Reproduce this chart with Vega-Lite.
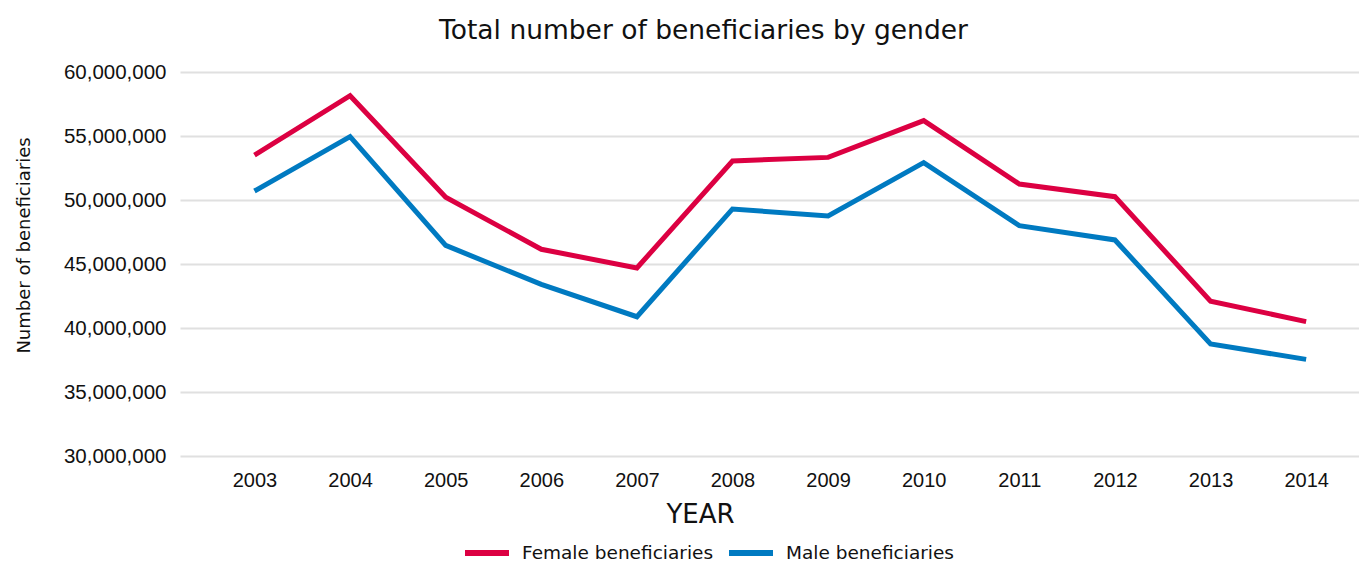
{
  "$schema": "https://vega.github.io/schema/vega-lite/v6.json",
  "width": 1179,
  "height": 384,
  "autosize": {"type": "none"},
  "padding": {"left": 180, "top": 72, "right": 0, "bottom": 107},
  "background": "white",
  "title": {
    "text": "Total number of beneficiaries by gender",
    "font": "DejaVu Sans",
    "fontSize": 26.5,
    "fontWeight": "normal",
    "color": "#111111",
    "anchor": "middle",
    "frame": "group",
    "dx": -66,
    "dy": 2,
    "offset": 20
  },
  "config": {
    "view": {"stroke": null},
    "axis": {"labelColor": "#111111", "titleColor": "#111111"}
  },
  "data": {
    "values": [
      {"year": 2003, "gender": "Female beneficiaries", "value": 53500000},
      {"year": 2004, "gender": "Female beneficiaries", "value": 58150000},
      {"year": 2005, "gender": "Female beneficiaries", "value": 50210000},
      {"year": 2006, "gender": "Female beneficiaries", "value": 46150000},
      {"year": 2007, "gender": "Female beneficiaries", "value": 44690000},
      {"year": 2008, "gender": "Female beneficiaries", "value": 53050000},
      {"year": 2009, "gender": "Female beneficiaries", "value": 53330000},
      {"year": 2010, "gender": "Female beneficiaries", "value": 56200000},
      {"year": 2011, "gender": "Female beneficiaries", "value": 51250000},
      {"year": 2012, "gender": "Female beneficiaries", "value": 50260000},
      {"year": 2013, "gender": "Female beneficiaries", "value": 42100000},
      {"year": 2014, "gender": "Female beneficiaries", "value": 40500000},
      {"year": 2003, "gender": "Male beneficiaries", "value": 50700000},
      {"year": 2004, "gender": "Male beneficiaries", "value": 54950000},
      {"year": 2005, "gender": "Male beneficiaries", "value": 46450000},
      {"year": 2006, "gender": "Male beneficiaries", "value": 43410000},
      {"year": 2007, "gender": "Male beneficiaries", "value": 40880000},
      {"year": 2008, "gender": "Male beneficiaries", "value": 49300000},
      {"year": 2009, "gender": "Male beneficiaries", "value": 48750000},
      {"year": 2010, "gender": "Male beneficiaries", "value": 52920000},
      {"year": 2011, "gender": "Male beneficiaries", "value": 48000000},
      {"year": 2012, "gender": "Male beneficiaries", "value": 46880000},
      {"year": 2013, "gender": "Male beneficiaries", "value": 38750000},
      {"year": 2014, "gender": "Male beneficiaries", "value": 37550000}
    ]
  },
  "mark": {"type": "line", "strokeWidth": 5, "strokeJoin": "miter", "strokeCap": "butt"},
  "encoding": {
    "x": {
      "field": "year",
      "type": "quantitative",
      "scale": {"domain": [2002.221, 2014.553], "nice": false, "zero": false},
      "axis": {
        "values": [2003, 2004, 2005, 2006, 2007, 2008, 2009, 2010, 2011, 2012, 2013, 2014],
        "format": "d",
        "grid": false,
        "ticks": false,
        "domain": false,
        "labelFont": "Liberation Sans",
        "labelFontSize": 20,
        "labelPadding": 14,
        "labelFlush": false,
        "title": "YEAR",
        "titleFont": "DejaVu Sans",
        "titleFontSize": 26,
        "titleFontWeight": "normal",
        "titleX": 520,
        "titleY": 58,
        "titleAlign": "center",
        "titleBaseline": "middle"
      }
    },
    "y": {
      "field": "value",
      "type": "quantitative",
      "scale": {"domain": [30000000, 60000000], "nice": false, "zero": false},
      "axis": {
        "values": [30000000, 35000000, 40000000, 45000000, 50000000, 55000000, 60000000],
        "format": ",d",
        "grid": true,
        "gridColor": "#e0e0e0",
        "gridWidth": 2,
        "ticks": false,
        "domain": false,
        "labelFont": "Liberation Sans",
        "labelFontSize": 20.5,
        "labelPadding": 14,
        "title": "Number of beneficiaries",
        "titleFont": "DejaVu Sans",
        "titleFontSize": 18,
        "titleFontWeight": "normal",
        "titleX": -156,
        "titleY": 173,
        "titleAngle": -90,
        "titleAlign": "center",
        "titleBaseline": "middle"
      }
    },
    "color": {
      "field": "gender",
      "type": "nominal",
      "scale": {
        "domain": ["Female beneficiaries", "Male beneficiaries"],
        "range": ["#dc0042", "#007ac1"]
      },
      "legend": {
        "title": null,
        "orient": "none",
        "direction": "horizontal",
        "legendX": 282,
        "legendY": 456,
        "padding": 0,
        "symbolType": "stroke",
        "symbolSize": 1936,
        "symbolStrokeWidth": 6,
        "labelFont": "DejaVu Sans",
        "labelFontSize": 18.5,
        "labelColor": "#111111",
        "labelLimit": 400,
        "labelOffset": 10,
        "columnPadding": 3
      }
    }
  }
}
